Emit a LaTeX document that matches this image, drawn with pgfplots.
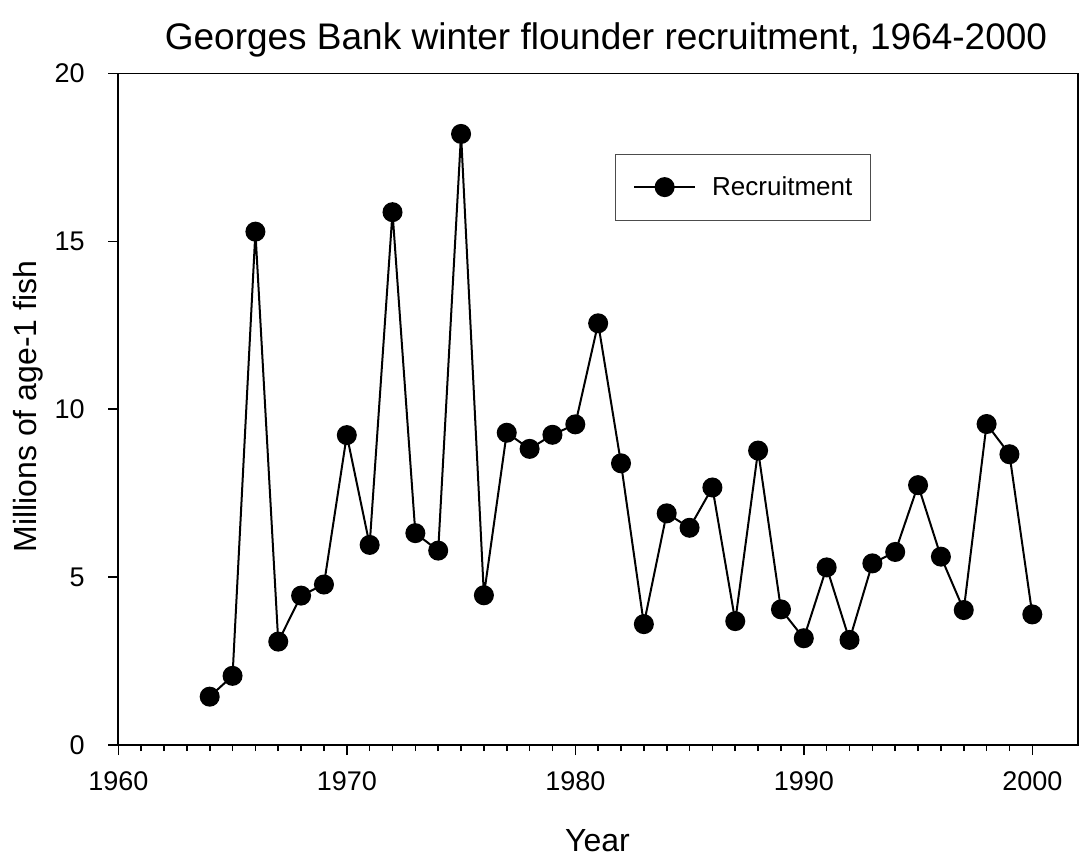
\documentclass[border=0pt]{standalone}
\usepackage{fontspec}
\setmainfont{Liberation Sans}
\usepackage{pgfplots}
\pgfplotsset{compat=1.18}
\begin{document}
\begin{tikzpicture}[x=1pt,y=1pt]
\path[use as bounding box] (0,0) rectangle (539.5,429.5);
\begin{axis}[
  at={(59.15pt,57pt)}, anchor=south west,
  scale only axis, width=479.85pt, height=335.75pt,
  xmin=1960, xmax=2002, ymin=0, ymax=20,
  xtick={1960,1970,1980,1990,2000}, ytick={0,5,10,15,20},
  minor x tick num=9,
  tick pos=left,
  tick align=outside,
  major tick length=5pt, minor tick length=3pt,
  every tick/.style={black, line width=0.8pt},
  axis line style={line width=0.9pt},
  /pgf/number format/1000 sep={},
  /pgf/number format/assume math mode=true,
  tick label style={font=\fontsize{13.5}{15}\selectfont},
  xticklabel style={anchor=base, inner sep=0pt, yshift=-17.5pt},
  yticklabel style={anchor=east, inner sep=0pt, xshift=-11.65pt},
  legend style={at={(0.5172,0.8806)}, anchor=north west, draw=black!70, line width=0.5pt,
    font=\fontsize{13}{15}\selectfont, inner xsep=9pt, inner ysep=11pt,
    nodes={inner sep=0pt}, column sep=8pt},
  legend image code/.code={\draw[line width=1pt] (0pt,0pt) -- (30.5pt,0pt); \fill (15.25pt,0pt) circle (4.5pt);},
]
\addplot[black, line width=1pt, mark=*, mark size=4.5pt, mark options={solid, fill=black}] coordinates {
(1964,1.44) (1965,2.06) (1966,15.29) (1967,3.08) (1968,4.45) (1969,4.78)
(1970,9.23) (1971,5.96) (1972,15.87) (1973,6.31) (1974,5.79) (1975,18.2)
(1976,4.46) (1977,9.30) (1978,8.82) (1979,9.24) (1980,9.55) (1981,12.56)
(1982,8.39) (1983,3.60) (1984,6.90) (1985,6.47) (1986,7.67) (1987,3.69)
(1988,8.77) (1989,4.04) (1990,3.18) (1991,5.29) (1992,3.13) (1993,5.41)
(1994,5.75) (1995,7.74) (1996,5.61) (1997,4.02) (1998,9.56) (1999,8.66)
(2000,3.89)
};
\addlegendentry{Recruitment}
\end{axis}
\node[anchor=base, inner sep=0pt, font=\fontsize{18.5}{21}\selectfont] at (303,404.5) {Georges Bank winter flounder recruitment, 1964-2000};
\node[anchor=base, inner sep=0pt, font=\fontsize{16}{19}\selectfont] at (298.75,4) {Year};
\node[anchor=base, rotate=90, inner sep=0pt, font=\fontsize{16}{19}\selectfont] at (18,226.25) {Millions of age-1 fish};
\end{tikzpicture}
\end{document}
